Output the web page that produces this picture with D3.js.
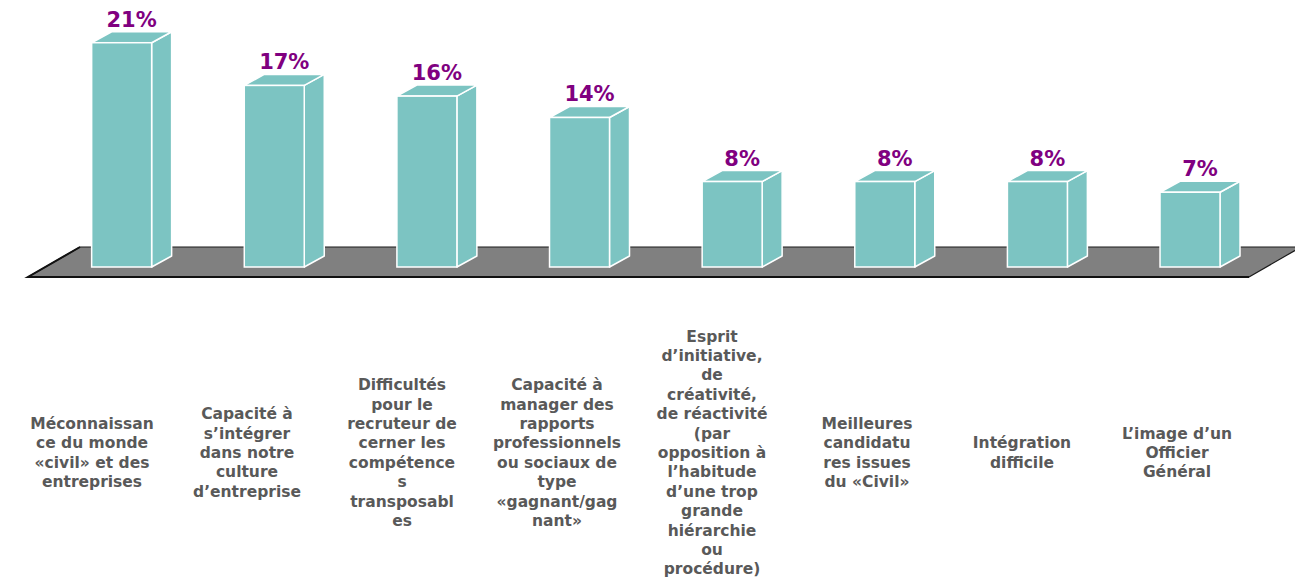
<!DOCTYPE html>
<html>
<head>
<meta charset="utf-8">
<script src="https://cdn.jsdelivr.net/npm/d3@7/dist/d3.min.js"></script>
<style>
  html, body { margin: 0; padding: 0; background: #ffffff; }
  svg { display: block; }
</style>
</head>
<body>
<svg id="chart" width="1295" height="578"></svg>
<script>
// Category labels (line breaks as they wrap under each column)
const categories = [
  "Méconnaissan\nce du monde\n«civil» et des\nentreprises",
  "Capacité à\ns’intégrer\ndans notre\nculture\nd’entreprise",
  "Difficultés\npour le\nrecruteur de\ncerner les\ncompétence\ns\ntransposabl\nes",
  "Capacité à\nmanager des\nrapports\nprofessionnels\nou sociaux de\ntype\n«gagnant/gag\nnant»",
  "Esprit\nd’initiative,\nde\ncréativité,\nde réactivité\n(par\nopposition à\nl’habitude\nd’une trop\ngrande\nhiérarchie\nou\nprocédure)",
  "Meilleures\ncandidatu\nres issues\ndu «Civil»",
  "Intégration\ndifficile",
  "L’image d’un\nOfficier\nGénéral"
];

// Share of respondents, in percent
const values = [21, 17, 16, 14, 8, 8, 8, 7];

// Value labels shown above each column
const valueLabels = ["21%", "17%", "16%", "14%", "8%", "8%", "8%", "7%"];

const svg = d3.select("#chart");

// Floor plane: front edge along the band range, receding up and to the right
const floorFront = 277;
const depth = { dx: 52, dy: -30 };     // full floor depth
const barDepth = { dx: 20, dy: -11 };  // depth of each column
const barInset = 1 / 3;                // columns stand a third of the way back

const x = d3.scaleBand()
  .domain(d3.range(categories.length))
  .range([28, 1249])
  .paddingInner(0.607)
  .paddingOuter(0.3035);

const baseY = floorFront + depth.dy * barInset;
const y = d3.scaleLinear().domain([0, 25]).range([baseY, 0]);

// Floor
const [fx0, fx1] = x.range();
svg.append("polygon")
  .attr("points", [
    [fx0, floorFront],
    [fx1, floorFront],
    [fx1 + depth.dx, floorFront + depth.dy],
    [fx0 + depth.dx, floorFront + depth.dy]
  ].map(p => p.join(",")).join(" "))
  .attr("fill", "#808080")
  .attr("stroke", "#1a1a1a")
  .attr("stroke-width", 1.2)
  .attr("stroke-linejoin", "round");
// heavier front and left edges
svg.append("polyline")
  .attr("points", [
    [fx0 + depth.dx, floorFront + depth.dy],
    [fx0, floorFront],
    [fx1, floorFront]
  ].map(p => p.join(",")).join(" "))
  .attr("fill", "none")
  .attr("stroke", "#111")
  .attr("stroke-width", 2);

// Columns
const bars = svg.append("g").selectAll("g.bar")
  .data(values)
  .join("g")
  .attr("class", "bar");

const barFill = "#7CC4C2";
const shiftX = depth.dx * barInset;

bars.each(function (v, i) {
  const g = d3.select(this);
  const x0 = x(i) + shiftX;
  const x1 = x0 + x.bandwidth();
  const yTop = y(v);
  const yBot = y(0);
  const { dx, dy } = barDepth;
  const face = pts => pts.map(p => p.join(",")).join(" ");
  // side face
  g.append("polygon")
    .attr("points", face([[x1, yBot], [x1 + dx, yBot + dy], [x1 + dx, yTop + dy], [x1, yTop]]))
    .attr("fill", barFill).attr("stroke", "#fff").attr("stroke-width", 1.5)
    .attr("stroke-linejoin", "round");
  // top face
  g.append("polygon")
    .attr("points", face([[x0, yTop], [x1, yTop], [x1 + dx, yTop + dy], [x0 + dx, yTop + dy]]))
    .attr("fill", barFill).attr("stroke", "#fff").attr("stroke-width", 1.5)
    .attr("stroke-linejoin", "round");
  // front face
  g.append("rect")
    .attr("x", x0).attr("y", yTop)
    .attr("width", x.bandwidth()).attr("height", yBot - yTop)
    .attr("fill", barFill).attr("stroke", "#fff").attr("stroke-width", 1.5);
});

// Value labels
svg.append("g").selectAll("text")
  .data(values)
  .join("text")
  .attr("x", (v, i) => x(i) + shiftX + x.bandwidth() / 2 + barDepth.dx / 2)
  .attr("y", v => y(v) + barDepth.dy - 5)
  .attr("text-anchor", "middle")
  .attr("font-family", "'DejaVu Sans', Verdana, sans-serif")
  .attr("font-weight", "bold")
  .attr("font-size", 21)
  .attr("fill", "#800080")
  .text((v, i) => valueLabels[i]);

// Category labels, centred on a common middle line below the floor
const labelX = d3.scalePoint()
  .domain(d3.range(categories.length))
  .range([92, 1177]);
const labelMid = 453;
const lineH = 19.4;

svg.append("g").selectAll("text")
  .data(categories)
  .join("text")
  .attr("text-anchor", "middle")
  .attr("font-family", "'DejaVu Sans', Verdana, sans-serif")
  .attr("font-weight", "bold")
  .attr("font-size", 15.5)
  .attr("fill", "#595959")
  .each(function (d, i) {
    const lines = d.split("\n");
    const t = d3.select(this);
    const top = labelMid - (lines.length - 1) / 2 * lineH + 5;
    lines.forEach((ln, k) => {
      t.append("tspan")
        .attr("x", labelX(i))
        .attr("y", top + k * lineH)
        .text(ln);
    });
  });
</script>
</body>
</html>
